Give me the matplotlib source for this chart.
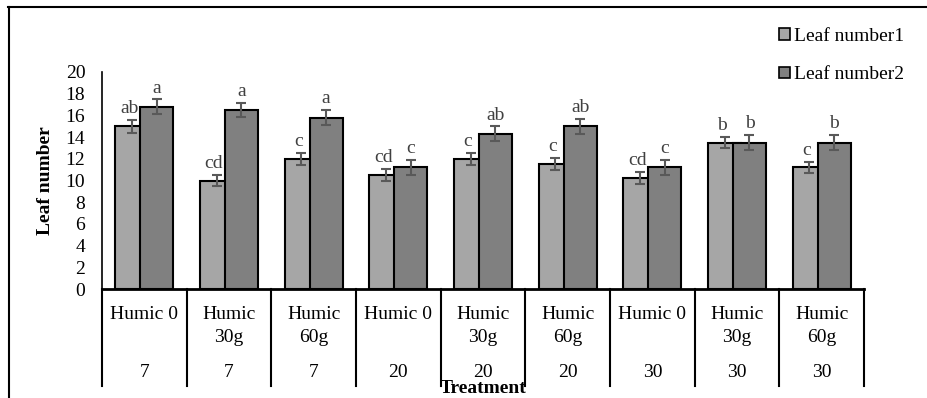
import numpy as np
import matplotlib.pyplot as plt
from matplotlib.lines import Line2D
from matplotlib.patches import Patch

plt.rcParams['font.family'] = ['Liberation Serif', 'DejaVu Serif']

humic = ['Humic 0', 'Humic\n30g', 'Humic\n60g'] * 3
days = ['7', '7', '7', '20', '20', '20', '30', '30', '30']

leaf1 = [15.0, 10.0, 12.0, 10.5, 12.0, 11.5, 10.2, 13.5, 11.2]
leaf2 = [16.8, 16.5, 15.8, 11.2, 14.3, 15.0, 11.2, 13.5, 13.5]
err1 = [0.59, 0.54, 0.55, 0.56, 0.55, 0.56, 0.56, 0.52, 0.54]
err2 = [0.68, 0.68, 0.69, 0.69, 0.69, 0.69, 0.69, 0.68, 0.68]
let1 = ['ab', 'cd', 'c', 'cd', 'c', 'c', 'cd', 'b', 'c']
let2 = ['a', 'a', 'a', 'c', 'ab', 'ab', 'c', 'b', 'b']

fs = 14

fig = plt.figure(figsize=(9.27, 3.98), dpi=100)
ax = fig.add_axes([102/927, 1-289/398, 762/927, 217/398])

x = np.arange(len(leaf1))
w = 0.39
off = 0.1475
ax.bar(x - off, leaf1, w, color='#a6a6a6', edgecolor='black', linewidth=1.5,
       label='Leaf number1', zorder=2)
ax.bar(x + off, leaf2, w, color='#808080', edgecolor='black', linewidth=1.5,
       label='Leaf number2', zorder=3)
ax.errorbar(x - off, leaf1, yerr=err1, fmt='none', ecolor='#595959',
            elinewidth=1.5, capsize=3.4, capthick=1.5, zorder=4)
ax.errorbar(x + off, leaf2, yerr=err2, fmt='none', ecolor='#595959',
            elinewidth=1.5, capsize=3.4, capthick=1.5, zorder=4)

for i in range(len(x)):
    ax.annotate(let1[i], (x[i] - off, leaf1[i] + err1[i]), xytext=(-2, 2),
                textcoords='offset points', ha='center', va='bottom',
                fontsize=fs, color='#404040')
    ax.annotate(let2[i], (x[i] + off, leaf2[i] + err2[i]), xytext=(0, 2),
                textcoords='offset points', ha='center', va='bottom',
                fontsize=fs, color='#404040')

ax.set_xlim(-0.5, 8.5)
ax.set_ylim(0, 20)
ax.set_yticks(range(0, 21, 2))
ax.tick_params(axis='y', length=0, labelsize=fs, pad=12)
ax.set_xticks([])
for s in ['top', 'right']:
    ax.spines[s].set_visible(False)
ax.spines['bottom'].set_linewidth(2)
ax.spines['left'].set_linewidth(1.2)
ax.set_ylabel('Leaf number', fontsize=fs, fontweight='bold', labelpad=8)

# two-row category axis: humic rate over day
tr = ax.get_xaxis_transform()
for b in np.arange(-0.5, 9.0, 1.0):
    ax.add_line(Line2D([b, b], [0, -0.447], transform=tr, color='black',
                       linewidth=1.5, clip_on=False))
for i in range(len(x)):
    ax.text(x[i], -0.08, humic[i], transform=tr, ha='center', va='top',
            fontsize=fs, linespacing=1.45)
    ax.text(x[i], -0.387, days[i], transform=tr, ha='center', va='center',
            fontsize=fs)
ax.text(4.0, -0.46, 'Treatment', transform=tr, ha='center', va='center',
        fontsize=fs, fontweight='bold')

handles = [Patch(facecolor='#a6a6a6', edgecolor='black', linewidth=1.2),
           Patch(facecolor='#808080', edgecolor='black', linewidth=1.2)]
fig.legend(handles, ['Leaf number1', 'Leaf number2'], loc='upper left',
           bbox_to_anchor=(779/927, 1-28/398), frameon=False, fontsize=fs,
           handlelength=0.55, handleheight=0.55, handletextpad=0.2,
           labelspacing=1.1, borderpad=0, borderaxespad=0)

# outer frame, left and top edges only
fig.add_artist(Line2D([8.5/927, 8.5/927], [0, 1-7/398], color='black',
                      linewidth=1.5, transform=fig.transFigure))
fig.add_artist(Line2D([8/927, 1], [1-7/398, 1-7/398], color='black',
                      linewidth=1.5, transform=fig.transFigure))

fig.savefig('out.png', dpi=100)
